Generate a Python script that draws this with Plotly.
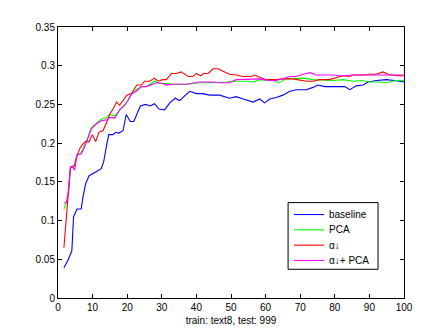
import plotly.graph_objects as go

# baseline
base_x = [1.7, 2.9, 4.0, 4.5, 5.5, 6.7, 7.2, 8.0, 9.0, 9.9, 11, 12.5, 13.2, 14.2, 14.7, 15.9,
          16.7, 17.6, 18.8, 19.7, 20.9, 21.9, 22.8, 23.8, 25.3, 26.7, 27.9, 29.2, 30.8, 32.3,
          33.9, 35.2, 36.6, 38.1, 40, 41.9, 43.8, 46.7, 49.6, 51.5, 53.5, 56.4, 58.3, 59.7,
          61.2, 63.1, 65, 67, 68.9, 71.8, 73.7, 75.1, 77.1, 82.9, 84.3, 86.2, 88.2, 89.6,
          92, 94.9, 97.3, 100]
base_y = [0.039, 0.049, 0.061, 0.105, 0.115, 0.115, 0.13, 0.148, 0.158, 0.16, 0.163, 0.167,
          0.176, 0.201, 0.211, 0.211, 0.214, 0.213, 0.216, 0.237, 0.228, 0.228, 0.237, 0.248,
          0.25, 0.248, 0.251, 0.244, 0.243, 0.252, 0.258, 0.255, 0.261, 0.267, 0.264, 0.264,
          0.262, 0.262, 0.258, 0.26, 0.257, 0.253, 0.257, 0.252, 0.257, 0.259, 0.262, 0.267,
          0.269, 0.269, 0.272, 0.275, 0.273, 0.273, 0.269, 0.274, 0.275, 0.279, 0.281, 0.282,
          0.281, 0.279]

# PCA
pca_x = [1.7, 2.4, 3.1, 3.6, 4.5, 5.5, 6.7, 7.7, 8.7, 9.6, 11.1, 12.5, 14, 14.9, 16.4, 17.8,
         19.3, 20.2, 21.2, 22.6, 24.1, 25.5, 27, 27.9, 29.4, 31.3, 33.2, 37.1, 40.9, 44.8,
         48.7, 50.6, 54.4, 56.4, 58.3, 60.2, 62.1, 63.9, 66, 68.9, 70.8, 73.7, 77.1, 79.5,
         82.4, 85.3, 87.7, 90.1, 93, 94.9, 97.8, 100]
pca_y = [0.115, 0.123, 0.135, 0.169, 0.169, 0.184, 0.188, 0.197, 0.208, 0.22, 0.226, 0.231,
         0.233, 0.237, 0.235, 0.243, 0.25, 0.255, 0.263, 0.269, 0.273, 0.273, 0.278, 0.28,
         0.277, 0.277, 0.276, 0.276, 0.278, 0.278, 0.279, 0.28, 0.28, 0.279, 0.282, 0.281,
         0.281, 0.278, 0.283, 0.284, 0.284, 0.282, 0.281, 0.281, 0.282, 0.28, 0.281, 0.279,
         0.279, 0.278, 0.281, 0.281]

# alpha decay
alpha_x = [1.7, 2.1, 2.6, 2.9, 3.6, 4.8, 5.3, 6.3, 7.2, 8.0, 9.0, 9.9, 10.9, 11.8, 13, 14,
           14.9, 15.9, 16.9, 17.8, 19, 19.9, 21.2, 22.8, 24.1, 25, 26.5, 27.9, 28.9, 30.3,
           31.3, 32.8, 34.2, 35.6, 37.6, 39, 40, 41.2, 42.1, 43.4, 44.8, 46.2, 47.7, 49.6,
           51.5, 53.5, 55.9, 56.8, 58.3, 60.2, 63.1, 65, 67.9, 69.8, 71.8, 73.7, 75.6, 78.5,
           80.4, 82.4, 84.3, 85.3, 88.2, 90.1, 92, 94, 95.4, 97.8, 100]
alpha_y = [0.065, 0.086, 0.111, 0.137, 0.169, 0.171, 0.182, 0.193, 0.199, 0.202, 0.202, 0.211,
           0.202, 0.214, 0.216, 0.226, 0.237, 0.244, 0.253, 0.249, 0.257, 0.262, 0.264, 0.275,
           0.275, 0.28, 0.28, 0.284, 0.28, 0.282, 0.282, 0.29, 0.29, 0.292, 0.286, 0.286, 0.29,
           0.287, 0.29, 0.29, 0.296, 0.296, 0.293, 0.289, 0.288, 0.286, 0.286, 0.288, 0.285,
           0.282, 0.282, 0.283, 0.283, 0.282, 0.28, 0.28, 0.282, 0.282, 0.284, 0.287, 0.286,
           0.288, 0.288, 0.289, 0.289, 0.292, 0.289, 0.287, 0.287]

# alpha decay + PCA
both_x = [1.7, 2.4, 2.9, 3.6, 4.3, 4.8, 5.5, 6.7, 7.7, 8.7, 9.6, 11.1, 12.5, 14, 14.9, 15.9,
          16.4, 17.8, 19.3, 20.2, 21.2, 22.6, 24.1, 25.5, 27, 28.4, 30.3, 31.3, 33.2, 37.1,
          40.9, 44.8, 46.7, 49.6, 51.5, 55.4, 58.3, 61.2, 63.1, 65, 67, 68.9, 70.8, 72.9,
          74.6, 79.5, 81.5, 85.3, 89.2, 100]
both_y = [0.123, 0.123, 0.135, 0.169, 0.169, 0.165, 0.185, 0.186, 0.195, 0.208, 0.218, 0.225,
          0.229, 0.23, 0.233, 0.233, 0.232, 0.243, 0.249, 0.255, 0.263, 0.267, 0.273, 0.273,
          0.276, 0.278, 0.277, 0.275, 0.276, 0.276, 0.279, 0.279, 0.278, 0.278, 0.282, 0.283,
          0.283, 0.281, 0.281, 0.283, 0.286, 0.286, 0.289, 0.291, 0.288, 0.288, 0.287, 0.288,
          0.288, 0.288]

x_ticks = list(range(0, 101, 10))
y_ticks = [0, 0.05, 0.1, 0.15, 0.2, 0.25, 0.3, 0.35]
y_tick_text = ["0", "0.05", "0.1", "0.15", "0.2", "0.25", "0.3", "0.35"]

series = [
    ("baseline", base_x, base_y, "#0000ff"),
    ("PCA", pca_x, pca_y, "#00ff00"),
    ("α↓", alpha_x, alpha_y, "#ff0000"),
    ("α↓+ PCA", both_x, both_y, "#ff00ff"),
]

fig = go.Figure()
for name, xs, ys, color in series:
    fig.add_trace(go.Scatter(x=xs, y=ys, mode="lines", name=name, showlegend=False,
                             line=dict(color=color, width=1.1)))

font = dict(family="Liberation Sans, Arial, sans-serif", size=10, color="black")
axis_common = dict(showgrid=False, zeroline=False, showline=True, linecolor="black",
                   linewidth=1, mirror="ticks", ticks="inside", ticklen=4,
                   tickcolor="black", tickfont=font)

# Compact boxed legend in the lower right of the axes (paper coordinates)
box_x0, box_x1, box_top, box_bottom = 0.665, 0.925, 0.352, 0.106
line_x0, line_x1, text_x = 0.682, 0.769, 0.778
first_row, row_step = 0.308, 0.0565

shapes = [dict(type="rect", xref="paper", yref="paper", x0=box_x0, x1=box_x1,
               y0=box_bottom, y1=box_top, line=dict(color="black", width=1),
               fillcolor="white", layer="above")]
annotations = []
for i, (name, _, _, color) in enumerate(series):
    yy = first_row - i * row_step
    shapes.append(dict(type="line", xref="paper", yref="paper", x0=line_x0, x1=line_x1,
                       y0=yy, y1=yy, line=dict(color=color, width=1.1), layer="above"))
    annotations.append(dict(xref="paper", yref="paper", x=text_x, y=yy, text=name,
                            showarrow=False, xanchor="left", yanchor="middle", font=font))

fig.update_layout(
    width=448, height=336,
    margin=dict(l=58, r=44, t=27, b=36),
    paper_bgcolor="white", plot_bgcolor="white",
    font=font,
    xaxis=dict(range=[0, 100], tickvals=x_ticks,
               title=dict(text="train: text8, test: 999", font=font, standoff=4),
               **axis_common),
    yaxis=dict(range=[0, 0.35], tickvals=y_ticks, ticktext=y_tick_text, **axis_common),
    shapes=shapes,
    annotations=annotations,
    showlegend=False,
)

fig.write_html("out.html")
